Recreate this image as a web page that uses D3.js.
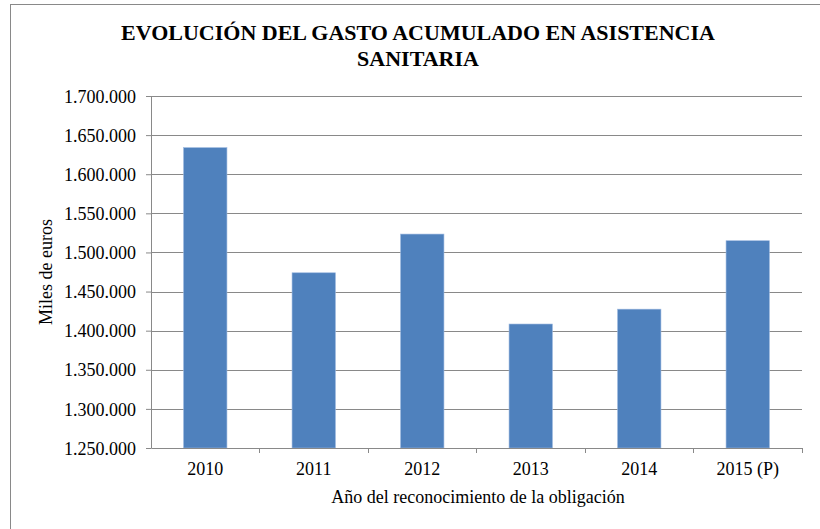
<!DOCTYPE html>
<html>
<head>
<meta charset="utf-8">
<script src="https://cdn.jsdelivr.net/npm/d3@7"></script>
<style>
  body { margin: 0; background: #fff; }
  svg text { font-family: "Liberation Serif", "Times New Roman", serif; fill: #000; }
</style>
</head>
<body>
<div id="chart"></div>
<script>
// data
var years = ["2010", "2011", "2012", "2013", "2014", "2015 (P)"];
var gasto = [1634000, 1474000, 1523500, 1408500, 1427500, 1515000];
var yTicks = [1250000, 1300000, 1350000, 1400000, 1450000, 1500000, 1550000, 1600000, 1650000, 1700000];
var titleLines = ["EVOLUCIÓN DEL GASTO ACUMULADO EN ASISTENCIA", "SANITARIA"];

var data = years.map(function(y, i) { return {year: y, value: gasto[i]}; });

var W = 820, H = 529;
var margin = {top: 96, right: 18, bottom: 81, left: 151};
var width = W - margin.left - margin.right,
    height = H - margin.top - margin.bottom;
var serif = '"Liberation Serif", "Times New Roman", serif';

var svg = d3.select("#chart").append("svg")
    .attr("width", W)
    .attr("height", H);

// chart frame (runs off the right and bottom)
svg.append("rect")
    .attr("x", 10.5).attr("y", 4.5)
    .attr("width", 830).attr("height", 540)
    .attr("fill", "none")
    .attr("stroke", "#898989");

// title
svg.append("text")
    .attr("text-anchor", "middle")
    .style("font-size", "22px")
    .style("font-weight", "bold")
    .selectAll("tspan")
    .data(titleLines)
    .enter().append("tspan")
      .attr("x", 418)
      .attr("y", function(d, i) { return 40 + i * 26; })
      .text(function(d) { return d; });

var g = svg.append("g").attr("transform", "translate(" + margin.left + "," + margin.top + ")");

var x = d3.scaleBand().domain(years).range([0, width]).paddingInner(0.6).paddingOuter(0.3);
var y = d3.scaleLinear().domain([1250000, 1700000]).range([height, 0]);

var fmt = function(d) { return d3.format(",")(d).replace(/,/g, "."); };

// gridlines
g.append("g")
  .selectAll("line")
  .data(yTicks.slice(1))
  .enter().append("line")
    .attr("x1", 0).attr("x2", width)
    .attr("y1", function(d) { return Math.round(y(d)) + 0.5; })
    .attr("y2", function(d) { return Math.round(y(d)) + 0.5; })
    .attr("stroke", "#898989")
    .attr("stroke-width", 1);

// bars
g.append("g")
  .selectAll("rect")
  .data(data)
  .enter().append("rect")
    .attr("x", function(d) { return x(d.year); })
    .attr("y", function(d) { return y(d.value); })
    .attr("width", x.bandwidth())
    .attr("height", function(d) { return height - y(d.value); })
    .attr("fill", "#4F81BD")
    .attr("stroke", "#9DB9E0")
    .attr("stroke-width", 0.6);

// y axis
var yAxis = g.append("g")
    .call(d3.axisLeft(y).tickValues(yTicks).tickFormat(fmt).tickSize(5).tickSizeOuter(0).tickPadding(10))
    .attr("font-family", serif)
    .attr("font-size", 18);
yAxis.select(".domain").attr("stroke", "#898989");
yAxis.selectAll(".tick line").attr("stroke", "#898989");
yAxis.selectAll("text").attr("dy", "0.34em");

// x axis: ticks sit between categories
var xAxis = g.append("g")
    .attr("transform", "translate(0," + height + ")")
    .call(d3.axisBottom(x).tickSize(0).tickPadding(14))
    .attr("font-family", serif)
    .attr("font-size", 18);
xAxis.select(".domain").attr("stroke", "#898989");

xAxis.selectAll(".sep")
  .data(years)
  .enter().append("line")
    .attr("class", "sep")
    .attr("x1", function(d) { return Math.round(x(d) + x.bandwidth() + x.step() * 0.3) + 0.5; })
    .attr("x2", function(d) { return Math.round(x(d) + x.bandwidth() + x.step() * 0.3) + 0.5; })
    .attr("y1", 0).attr("y2", 5)
    .attr("stroke", "#898989");

// axis titles
svg.append("text")
    .attr("text-anchor", "middle")
    .attr("transform", "translate(52," + 272 + ")rotate(-90)")
    .style("font-size", "18px")
    .text("Miles de euros");

svg.append("text")
    .attr("text-anchor", "middle")
    .attr("x", 478).attr("y", 503)
    .style("font-size", "18px")
    .text("Año del reconocimiento de la obligación");
</script>
</body>
</html>
